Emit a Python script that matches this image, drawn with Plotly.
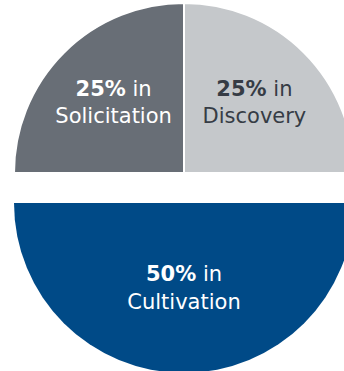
import plotly.graph_objects as go

# Data
labels = ["Discovery", "Cultivation", "Solicitation"]
values = [25, 50, 25]
colors = ["#c5c8cb", "#004a87", "#686e76"]
text_colors = ["#363c45", "#ffffff", "#ffffff"]

total = sum(values)
texts = [f"<b>{v / total * 100:.0f}%</b> in<br>{lab}" for lab, v in zip(labels, values)]

W, H = 360, 380
cx, r = 184, 170
top_cy, bot_cy = 173, 203

def dom(cy):
    return dict(
        x=[(cx - r) / W, (cx + r) / W],
        y=[(H - (cy + r)) / H, (H - (cy - r)) / H],
    )

FONT = dict(family="DejaVu Sans", size=21)

# Top half: Discovery + Solicitation, with an invisible filler for the bottom half
top_trace = go.Pie(
    values=[values[0], values[1], values[2]],
    labels=["Discovery", "_filler_top", "Solicitation"],
    text=[texts[0], "", texts[2]],
    textinfo="text",
    textposition="inside",
    insidetextorientation="horizontal",
    sort=False,
    direction="clockwise",
    rotation=0,
    marker=dict(
        colors=[colors[0], "rgba(0,0,0,0)", colors[2]],
        line=dict(color="#ffffff", width=[2, 0, 2]),
    ),
    textfont=dict(**FONT, color=[text_colors[0], "#ffffff", text_colors[2]]),
    hoverinfo="skip",
    domain=dom(top_cy),
    showlegend=False,
)

# Bottom half: Cultivation, with an invisible filler for the top half
bot_trace = go.Pie(
    values=[values[1], values[0] + values[2]],
    labels=["Cultivation", "_filler_bottom"],
    text=[texts[1], ""],
    textinfo="text",
    textposition="inside",
    insidetextorientation="horizontal",
    sort=False,
    direction="clockwise",
    rotation=90,
    marker=dict(
        colors=[colors[1], "rgba(0,0,0,0)"],
        line=dict(color="#ffffff", width=[0, 0]),
    ),
    textfont=dict(**FONT, color=[text_colors[1], "#ffffff"]),
    hoverinfo="skip",
    domain=dom(bot_cy),
    showlegend=False,
)

fig = go.Figure([top_trace, bot_trace])
fig.update_layout(
    width=W,
    height=H,
    margin=dict(l=0, r=0, t=0, b=0),
    paper_bgcolor="#ffffff",
    plot_bgcolor="#ffffff",
    showlegend=False,
)

fig.write_html(
    "out.html",
    config={"displayModeBar": False},
    post_script="document.documentElement.style.overflow='hidden';document.body.style.overflow='hidden';",
)
